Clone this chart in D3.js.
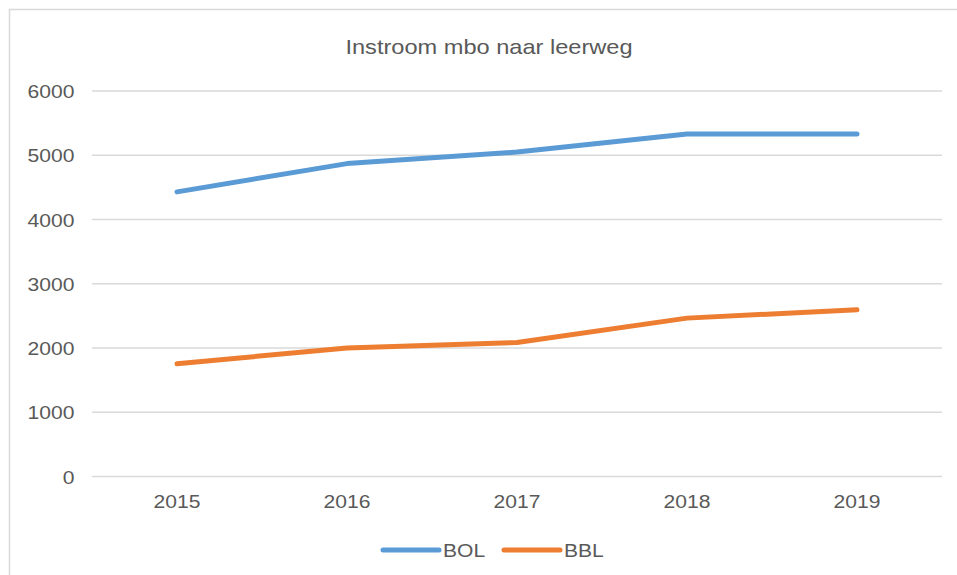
<!DOCTYPE html>
<html>
<head>
<meta charset="utf-8">
<script src="https://cdn.jsdelivr.net/npm/d3@7"></script>
<style>
  html, body { margin: 0; padding: 0; background: #fff; }
  svg { display: block; }
  text { font-family: "Liberation Sans", Arial, sans-serif; fill: #595959; }
</style>
</head>
<body>
<script>
const categories = ["2015", "2016", "2017", "2018", "2019"];
const bolValues = [4430, 4870, 5050, 5330, 5330];
const bblValues = [1755, 2000, 2085, 2465, 2595];
const yTicks = [0, 1000, 2000, 3000, 4000, 5000, 6000];
const seriesNames = ["BOL", "BBL"];
const seriesColors = ["#5B9BD5", "#ED7D31"];
const title = "Instroom mbo naar leerweg";

const W = 957, H = 575;

const svg = d3.select("body").append("svg").attr("width", W).attr("height", H);

svg.append("rect")
  .attr("x", 9.5).attr("y", 9.5).attr("width", W + 20).attr("height", H + 20)
  .attr("fill", "#fff").attr("stroke", "#d9d9d9").attr("stroke-width", 1.5);

const x = d3.scaleBand().domain(categories).range([92, 942]);
const y = d3.scaleLinear().domain([0, 6000]).range([476.5, 91]);

function stext(g, tx, ty, str, size, anchor, sx) {
  return g.append("text")
    .attr("transform", `translate(${tx},${ty}) scale(${sx},1)`)
    .attr("text-anchor", anchor)
    .style("font-size", size + "px")
    .text(str);
}

// gridlines
const grid = svg.append("g");
yTicks.forEach(t => {
  grid.append("line")
    .attr("x1", x.range()[0]).attr("x2", x.range()[1])
    .attr("y1", y(t)).attr("y2", y(t))
    .attr("stroke", "#d9d9d9").attr("stroke-width", 1.3);
});

// y labels
const yl = svg.append("g");
yTicks.forEach(t => stext(yl, 74.5, y(t) + 7, String(t), 19, "end", 1.11));

// x labels
const xl = svg.append("g");
categories.forEach(c => stext(xl, x(c) + x.bandwidth() / 2, 508, c, 19, "middle", 1.11));

// title
stext(svg, 489, 54, title, 20, "middle", 1.18);

// lines
const line = d3.line()
  .x((d, i) => x(categories[i]) + x.bandwidth() / 2)
  .y(d => y(d));
[bolValues, bblValues].forEach((vals, k) => {
  svg.append("path")
    .datum(vals)
    .attr("d", line)
    .attr("fill", "none")
    .attr("stroke", seriesColors[k])
    .attr("stroke-width", 5)
    .attr("stroke-linecap", "round")
    .attr("stroke-linejoin", "round");
});

// legend
const legendX = [383, 504];
seriesNames.forEach((n, k) => {
  svg.append("line")
    .attr("x1", legendX[k]).attr("x2", legendX[k] + 56)
    .attr("y1", 550).attr("y2", 550)
    .attr("stroke", seriesColors[k]).attr("stroke-width", 5)
    .attr("stroke-linecap", "round");
  stext(svg, legendX[k] + 60, 557, n, 19, "start", 1.11);
});
</script>
</body>
</html>
